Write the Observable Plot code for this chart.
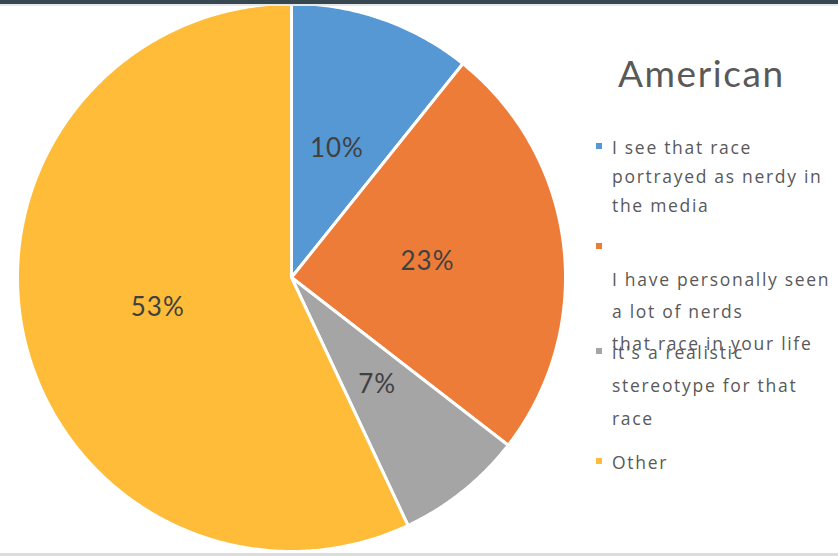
<!DOCTYPE html>
<html><head><meta charset="utf-8">
<script src="https://cdn.jsdelivr.net/npm/d3@7"></script>
<script src="https://cdn.jsdelivr.net/npm/@observablehq/plot@0.6"></script>
<style>
html,body{margin:0;padding:0;background:#fff;}
#wrap{position:relative;width:838px;height:556px;overflow:hidden;font-family:Lato,"Open Sans",sans-serif;}
#chart{position:absolute;left:0;top:0;}
.band-top{position:absolute;left:0;top:0;width:838px;height:4px;background:#37474f;}
.band-top2{position:absolute;left:0;top:4px;width:838px;height:2px;background:#e6e8ea;}
.band-bot{position:absolute;left:0;top:553px;width:838px;height:3px;background:#dcdcdc;}
.title{position:absolute;left:618px;top:48px;font-size:37px;letter-spacing:1.6px;color:#595959;line-height:50px;white-space:nowrap;}
.line{position:absolute;left:612px;font-family:"Open Sans",Lato,sans-serif;font-size:17.5px;letter-spacing:1.7px;color:#595959;white-space:nowrap;line-height:20px;}
.sw{position:absolute;left:596px;width:6px;height:6px;}
</style></head><body><div id="wrap"><div id="chart"></div></div>
<script>
const categories = [
  "I see that race portrayed as nerdy in the media",
  "I have personally seen a lot of nerds that race in your life",
  "it's a realistic stereotype for that race",
  "Other"
];
const values = [10, 23, 7, 53];
const valueLabels = ["10%", "23%", "7%", "53%"];
const colors = ["#5598d4", "#ee7c39", "#a5a5a5", "#febc39"];
const title = "American";
const legendLines = [
  ["I see that race", "portrayed  as nerdy in", "the media"],
  ["", "I have personally seen", "a lot of nerds", "that race in your life"],
  ["it's a realistic", "stereotype for that", "race"],
  ["Other"]
];

const total = d3.sum(values);
let acc = 0;
const slices = values.map((v, i) => {
  const a0 = acc / total * 2 * Math.PI; acc += v;
  const a1 = acc / total * 2 * Math.PI;
  return {cat: categories[i], value: v, label: valueLabels[i], a0, a1, mid: (a0 + a1) / 2};
});
const pt = (a, r) => [r * Math.sin(a), -r * Math.cos(a)];
const features = slices.map(s => {
  const n = Math.max(4, Math.ceil((s.a1 - s.a0) / (Math.PI / 360)));
  const ring = [[0, 0]];
  for (let k = 0; k <= n; k++) ring.push(pt(s.a0 + (s.a1 - s.a0) * k / n, 1));
  ring.push([0, 0]);
  return {type: "Feature", properties: s, geometry: {type: "Polygon", coordinates: [ring]}};
});

const plot = Plot.plot({
  width: 838, height: 556,
  marginLeft: 17, marginRight: 273, marginTop: 3, marginBottom: 5,
  projection: {type: "identity", domain: {type: "MultiPoint", coordinates: [[-1, -1], [1, 1]]}},
  color: {domain: categories, range: colors},
  marks: [
    Plot.geo(features, {fill: d => d.properties.cat, stroke: "white", strokeWidth: 3, strokeLinejoin: "round"}),
    Plot.text(slices, {
      x: d => pt(d.mid, 0.5)[0], y: d => pt(d.mid, 0.5)[1], text: "label",
      fontSize: 26, fill: "#404040", fontFamily: "Lato, 'Open Sans', sans-serif"
    })
  ]
});
plot.querySelectorAll("text").forEach(el => el.style.letterSpacing = "1px");
document.getElementById("chart").appendChild(plot);

const wrap = document.getElementById("wrap");
["band-top", "band-top2", "band-bot"].forEach(c => { const d = document.createElement("div"); d.className = c; wrap.appendChild(d); });
const t = document.createElement("div"); t.className = "title"; t.textContent = title; wrap.appendChild(t);

const itemTop = [147, 247, 352, 462];
const itemStep = [29, 32, 33, 30];
legendLines.forEach((lines, i) => {
  const sw = document.createElement("div");
  sw.className = "sw"; sw.style.background = colors[i]; sw.style.top = (itemTop[i] - 4) + "px";
  wrap.appendChild(sw);
  lines.forEach((txt, j) => {
    const d = document.createElement("div");
    d.className = "line"; d.textContent = txt;
    d.style.top = (itemTop[i] + j * itemStep[i] - 10) + "px";
    wrap.appendChild(d);
  });
});
</script></body></html>
